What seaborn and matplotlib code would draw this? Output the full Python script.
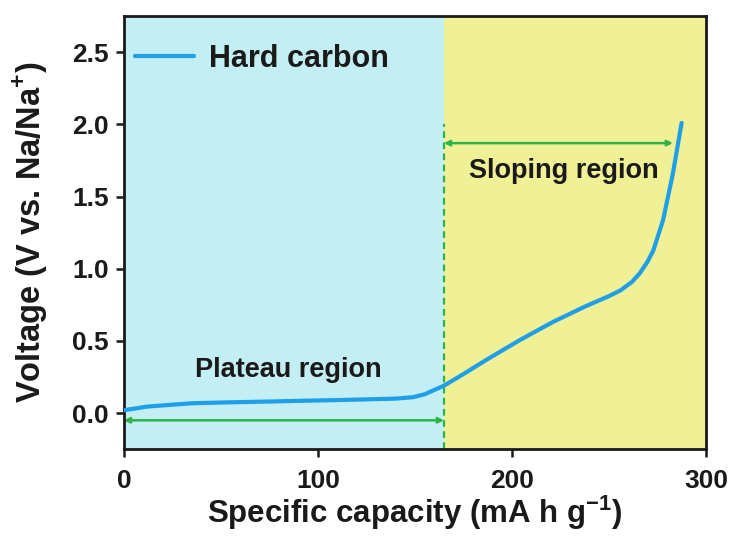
import matplotlib
matplotlib.use("Agg")
import matplotlib.pyplot as plt
import seaborn as sns
import pandas as pd

# Galvanostatic discharge profile of hard carbon
capacity = [0, 5, 12, 22, 35, 56, 75, 91, 110, 125, 140, 149, 155, 160, 165,
            175, 187, 204, 221, 238, 250, 256, 262, 266, 270, 273, 278, 283, 287.5]
voltage = [0.02, 0.03, 0.045, 0.055, 0.068, 0.075, 0.08, 0.085, 0.09, 0.095, 0.10, 0.11,
           0.13, 0.16, 0.19, 0.27, 0.37, 0.505, 0.63, 0.74, 0.81, 0.85, 0.91, 0.97,
           1.05, 1.13, 1.34, 1.66, 2.01]

boundary = 165          # plateau / sloping transition (mA h g^-1)
x_max = 300
y_min, y_max = -0.25, 2.75
plateau_arrow_y = -0.05
sloping_arrow_y = 1.87
sloping_arrow_end = 283
x_ticks = [0, 100, 200, 300]
y_ticks = [0.0, 0.5, 1.0, 1.5, 2.0, 2.5]

sns.set_theme(style="ticks")
plt.rcParams["font.family"] = ["Liberation Sans", "DejaVu Sans"]
plt.rcParams["font.weight"] = "bold"
plt.rcParams["mathtext.default"] = "bf"

fig = plt.figure(figsize=(7.33, 5.36), dpi=100)
ax = fig.add_axes([0.169, 0.162, 0.794, 0.808])

blue_bg = "#C3EEF3"
yellow_bg = "#F0F096"
green = "#2DB34A"
line_color = "#1E9FE8"
ink = "#1a1a1a"

ax.axvspan(0, boundary, color=blue_bg, lw=0, zorder=0)
ax.axvspan(boundary, x_max, color=yellow_bg, lw=0, zorder=0)

df = pd.DataFrame({"Specific capacity": capacity, "Voltage": voltage})
sns.lineplot(data=df, x="Specific capacity", y="Voltage", ax=ax, color=line_color,
             lw=3, label="Hard carbon", zorder=3, sort=False)

# region divider and extent arrows
ax.plot([boundary, boundary], [y_min, 2.0], ls=(0, (3, 2)), color=green, lw=1.6, zorder=2)
ax.annotate("", xy=(boundary, plateau_arrow_y), xytext=(0, plateau_arrow_y),
            arrowprops=dict(arrowstyle="<->", color=green, lw=1.8, shrinkA=0, shrinkB=0,
                            mutation_scale=8), zorder=2)
ax.annotate("", xy=(sloping_arrow_end, sloping_arrow_y), xytext=(boundary, sloping_arrow_y),
            arrowprops=dict(arrowstyle="<->", color=green, lw=1.8, shrinkA=0, shrinkB=0,
                            mutation_scale=8), zorder=2)

ax.text(85, 0.30, "Plateau region", ha="center", va="center", fontsize=19.5,
        fontweight="bold", color=ink)
ax.text(227, 1.68, "Sloping region", ha="center", va="center", fontsize=19.5,
        fontweight="bold", color=ink)

ax.set_xlim(0, x_max)
ax.set_ylim(y_min, y_max)
ax.set_xticks(x_ticks)
ax.set_yticks(y_ticks)
ax.set_xticklabels([str(t) for t in x_ticks])
ax.set_yticklabels([f"{t:.1f}" for t in y_ticks])
ax.tick_params(axis="both", labelsize=19, width=1.8, length=6, direction="out",
               colors=ink)
ax.tick_params(axis="x", pad=8)
ax.tick_params(axis="y", pad=5)
for lab in ax.get_xticklabels() + ax.get_yticklabels():
    lab.set_fontweight("bold")

ax.set_xlabel("Specific capacity (mA h g$^{\\mathregular{-1}}$)", fontsize=22.5,
              fontweight="bold", color=ink, labelpad=1)
ax.set_ylabel("Voltage (V vs. Na/Na$^{\\mathregular{+}}$)", fontsize=23.5,
              fontweight="bold", color=ink, labelpad=16)

for s in ax.spines.values():
    s.set_linewidth(2)
    s.set_color(ink)

leg = ax.legend(loc="upper left", bbox_to_anchor=(-0.009, 0.975), frameon=False,
                fontsize=22, handlelength=1.9, borderaxespad=0.15, handletextpad=0.5)
for t in leg.get_texts():
    t.set_fontweight("bold")
    t.set_color(ink)

fig.savefig("out.png", dpi=100)
